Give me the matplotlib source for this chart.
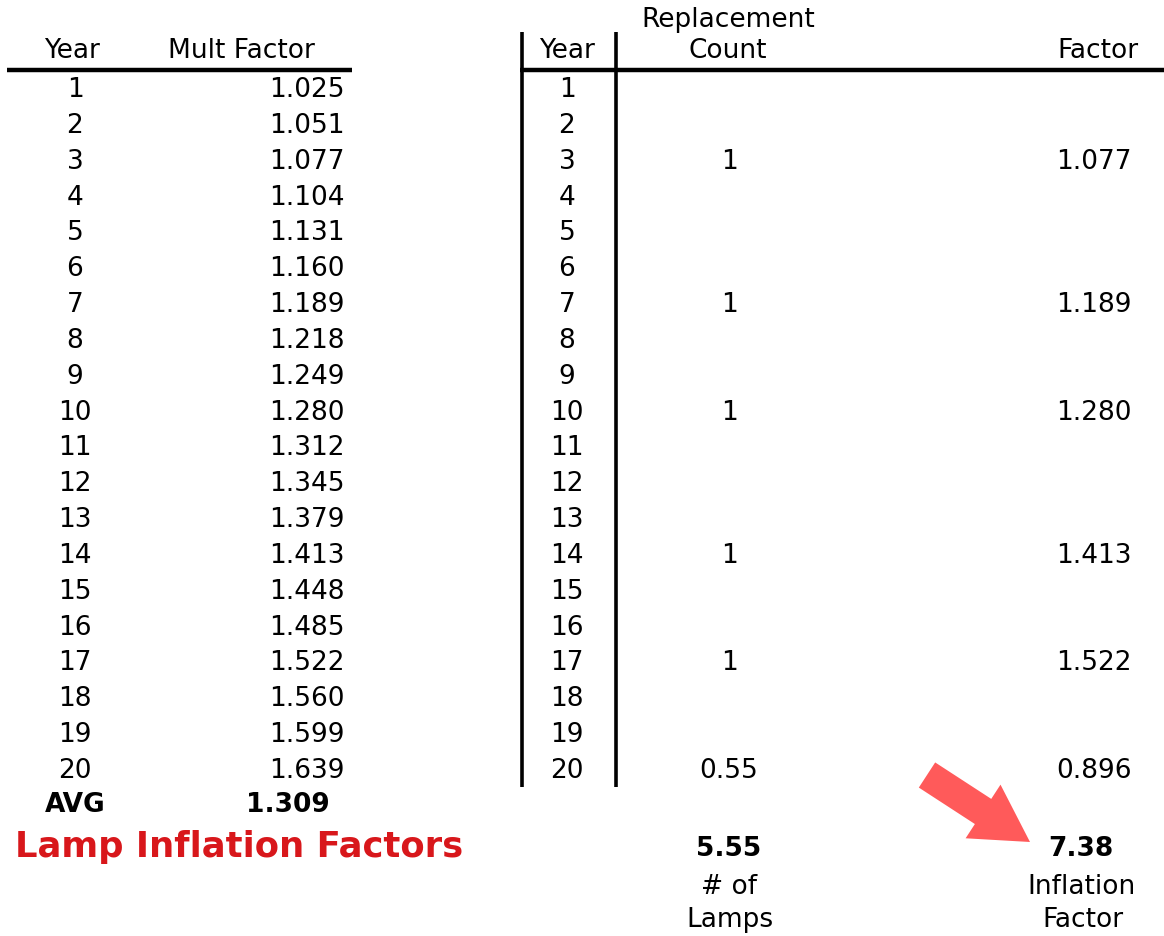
import matplotlib
matplotlib.use("Agg")
import matplotlib.pyplot as plt
from matplotlib.patches import FancyArrow

# ── table data ────────────────────────────────────────────────────────────────
years = list(range(1, 21))
mult_factor = [1.025, 1.051, 1.077, 1.104, 1.131, 1.160, 1.189, 1.218, 1.249, 1.280,
               1.312, 1.345, 1.379, 1.413, 1.448, 1.485, 1.522, 1.560, 1.599, 1.639]
avg_mult = 1.309

repl_years = [3, 7, 10, 14, 17, 20]
repl_count = ["1", "1", "1", "1", "1", "0.55"]
repl_factor = [1.077, 1.189, 1.280, 1.413, 1.522, 0.896]
total_lamps = 5.55
inflation_factor = 7.38

TITLE = "Lamp Inflation Factors"

# ── canvas in pixel units (y grows downward) ─────────────────────────────────
W, H = 1164, 936
fig = plt.figure(figsize=(W / 100, H / 100), dpi=100)
ax = fig.add_axes([0, 0, 1, 1])
ax.set_xlim(0, W)
ax.set_ylim(H, 0)
ax.axis("off")

FONT = "DejaVu Sans"
FS = 19
ROW0, STEP = 88, 35.84      # centre of first row, row pitch
BASE = 9                    # half cap height -> baseline offset


def row_y(year):
    return ROW0 + (year - 1) * STEP + BASE


def txt(x, y, s, ha="center", **kw):
    kw.setdefault("fontsize", FS)
    kw.setdefault("family", FONT)
    ax.text(x, y, s, ha=ha, va="baseline", color=kw.pop("color", "black"), **kw)


# left table
txt(72, 58, "Year")
txt(241, 58, "Mult Factor")
ax.plot([7, 352], [70, 70], color="black", lw=3.2, solid_capstyle="butt")
for yr, mf in zip(years, mult_factor):
    txt(75, row_y(yr), str(yr))
    txt(345, row_y(yr), f"{mf:.3f}", ha="right")
txt(75, 812, "AVG", fontweight="bold")
txt(288, 812, f"{avg_mult:.3f}", fontweight="bold")
txt(15, 857, TITLE, ha="left", fontsize=25.5, fontweight="bold", color="#D8171B")

# right table
txt(567, 58, "Year")
txt(728, 27, "Replacement")
txt(728, 58, "Count")
txt(1138, 58, "Factor", ha="right")
ax.plot([520, W], [70, 70], color="black", lw=3.2, solid_capstyle="butt")
ax.plot([522, 522], [32, 787], color="black", lw=2.6, solid_capstyle="butt")
ax.plot([616, 616], [32, 787], color="black", lw=2.6, solid_capstyle="butt")
for yr in years:
    txt(567, row_y(yr), str(yr))
for yr, cnt, fac in zip(repl_years, repl_count, repl_factor):
    txt(729, row_y(yr), cnt)
    txt(1132, row_y(yr), f"{fac:.3f}", ha="right")

txt(729, 856, f"{total_lamps:.2f}", fontweight="bold")
txt(1081, 856, f"{inflation_factor:.2f}", fontweight="bold")
txt(729, 894, "# of")
txt(730, 927, "Lamps")
txt(1082, 894, "Inflation")
txt(1083, 927, "Factor")

# red pointer arrow towards the inflation factor
ax.add_patch(FancyArrow(927, 775, 103, 67, width=30, head_width=64, head_length=56,
                        length_includes_head=True, color="#FF5A5A", lw=0))

fig.savefig("out.png", dpi=100)
